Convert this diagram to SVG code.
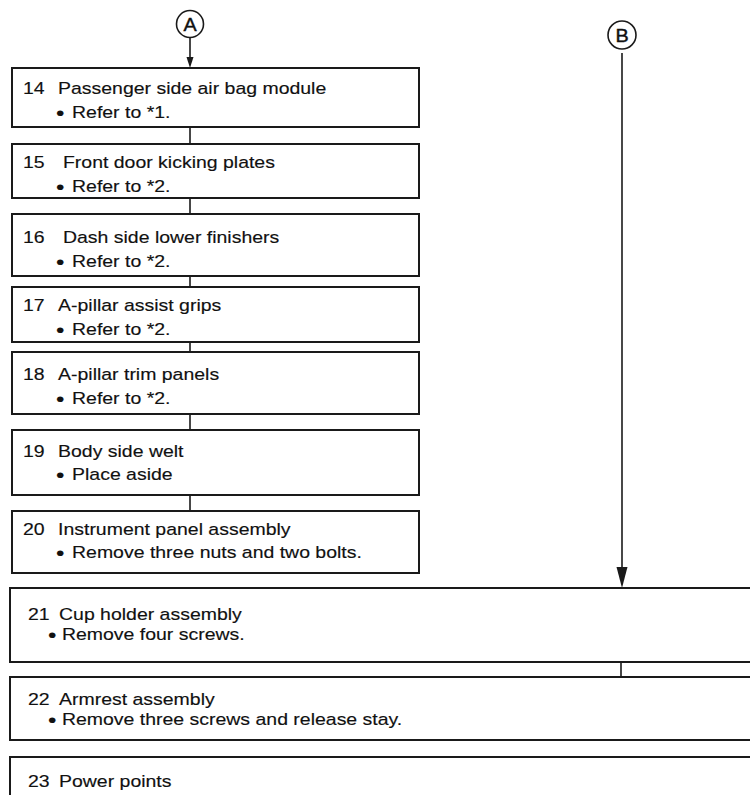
<svg xmlns="http://www.w3.org/2000/svg" width="750" height="795" viewBox="0 0 750 795">
<defs>
<style>
.box{fill:#fff;stroke:#1a1a1a;stroke-width:2}
.t{font-family:"Liberation Sans",Arial,sans-serif;font-size:17px;fill:#111;stroke:#111;stroke-width:0.15}
.b{font-size:21px}
.c{fill:none;stroke:#1a1a1a;stroke-width:1.6}
.lbl{font-family:"Liberation Sans",Arial,sans-serif;font-size:18px;fill:#111;stroke:#111;stroke-width:0.4;text-anchor:middle}
.ah{fill:#1a1a1a}
</style>
</defs>
<rect width="750" height="795" fill="#fff"/>
<g id="connectors">
<circle class="c" cx="190" cy="24" r="13.5"/>
<line class="c" x1="190" y1="37.5" x2="190" y2="60"/>
<polygon class="ah" points="186.5,57 193.5,57 190,68"/>
<line class="c" x1="190" y1="127" x2="190" y2="144"/>
<line class="c" x1="190" y1="198" x2="190" y2="214"/>
<line class="c" x1="190" y1="276" x2="190" y2="287"/>
<line class="c" x1="190" y1="342" x2="190" y2="352"/>
<line class="c" x1="190" y1="414" x2="190" y2="430"/>
<line class="c" x1="190" y1="495" x2="190" y2="511"/>
<circle class="c" cx="622" cy="35" r="14"/>
<line class="c" x1="622" y1="53" x2="622" y2="570"/>
<polygon class="ah" points="616.5,567 627.5,567 622,588"/>
<line class="c" x1="621" y1="662" x2="621" y2="677"/>
</g>
<g id="markerA"><text class="lbl" transform="translate(190,30.5) scale(1.1,1)">A</text></g>
<g id="markerB"><text class="lbl" transform="translate(622,41.5) scale(1.1,1)">B</text></g>
<g id="n14"><rect class="box" x="12" y="68" width="407" height="59"/>
<text class="t" transform="translate(23,94) scale(1.145,1)"><tspan x="0">14</tspan><tspan x="30.6">Passenger side air bag module</tspan></text>
<text class="t" transform="translate(56,118) scale(1.145,1)"><tspan class="b" x="0" y="1.5">•</tspan><tspan x="14" y="0">Refer to *1.</tspan></text></g>
<g id="n15"><rect class="box" x="12" y="144" width="407" height="54"/>
<text class="t" transform="translate(23,168) scale(1.145,1)"><tspan x="0">15</tspan><tspan x="34.9">Front door kicking plates</tspan></text>
<text class="t" transform="translate(56,192) scale(1.145,1)"><tspan class="b" x="0" y="1.5">•</tspan><tspan x="14" y="0">Refer to *2.</tspan></text></g>
<g id="n16"><rect class="box" x="12" y="214" width="407" height="62"/>
<text class="t" transform="translate(23,243) scale(1.145,1)"><tspan x="0">16</tspan><tspan x="34.9">Dash side lower finishers</tspan></text>
<text class="t" transform="translate(56,267) scale(1.145,1)"><tspan class="b" x="0" y="1.5">•</tspan><tspan x="14" y="0">Refer to *2.</tspan></text></g>
<g id="n17"><rect class="box" x="12" y="287" width="407" height="55"/>
<text class="t" transform="translate(23,311) scale(1.145,1)"><tspan x="0">17</tspan><tspan x="30.6">A-pillar assist grips</tspan></text>
<text class="t" transform="translate(56,335) scale(1.145,1)"><tspan class="b" x="0" y="1.5">•</tspan><tspan x="14" y="0">Refer to *2.</tspan></text></g>
<g id="n18"><rect class="box" x="12" y="352" width="407" height="62"/>
<text class="t" transform="translate(23,380) scale(1.145,1)"><tspan x="0">18</tspan><tspan x="30.6">A-pillar trim panels</tspan></text>
<text class="t" transform="translate(56,404) scale(1.145,1)"><tspan class="b" x="0" y="1.5">•</tspan><tspan x="14" y="0">Refer to *2.</tspan></text></g>
<g id="n19"><rect class="box" x="12" y="430" width="407" height="65"/>
<text class="t" transform="translate(23,457) scale(1.145,1)"><tspan x="0">19</tspan><tspan x="30.6">Body side welt</tspan></text>
<text class="t" transform="translate(56,480) scale(1.145,1)"><tspan class="b" x="0" y="1.5">•</tspan><tspan x="14" y="0">Place aside</tspan></text></g>
<g id="n20"><rect class="box" x="12" y="511" width="407" height="62"/>
<text class="t" transform="translate(23,535) scale(1.145,1)"><tspan x="0">20</tspan><tspan x="30.6">Instrument panel assembly</tspan></text>
<text class="t" transform="translate(56,558) scale(1.145,1)"><tspan class="b" x="0" y="1.5">•</tspan><tspan x="14" y="0">Remove three nuts and two bolts.</tspan></text></g>
<g id="n21"><rect class="box" x="10" y="588" width="760" height="74"/>
<text class="t" transform="translate(28,620) scale(1.145,1)"><tspan x="0">21</tspan><tspan x="27.1">Cup holder assembly</tspan></text>
<text class="t" transform="translate(48,640) scale(1.145,1)"><tspan class="b" x="0" y="1.5">•</tspan><tspan x="12.2" y="0">Remove four screws.</tspan></text></g>
<g id="n22"><rect class="box" x="10" y="677" width="760" height="63"/>
<text class="t" transform="translate(28,705) scale(1.145,1)"><tspan x="0">22</tspan><tspan x="27.1">Armrest assembly</tspan></text>
<text class="t" transform="translate(48,725) scale(1.145,1)"><tspan class="b" x="0" y="1.5">•</tspan><tspan x="12.2" y="0">Remove three screws and release stay.</tspan></text></g>
<g id="n23"><rect class="box" x="10" y="757" width="760" height="60"/>
<text class="t" transform="translate(28,787) scale(1.145,1)"><tspan x="0">23</tspan><tspan x="27.1">Power points</tspan></text></g>
</svg>
